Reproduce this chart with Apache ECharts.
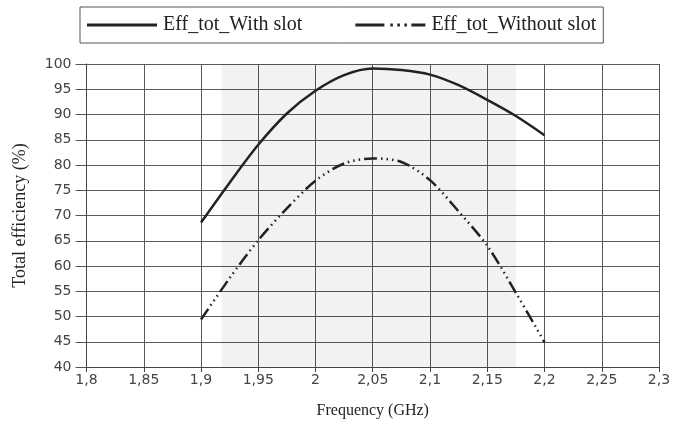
<!DOCTYPE html>
<html>
<head>
<meta charset="utf-8">
<script src="https://cdn.jsdelivr.net/npm/echarts@6/dist/echarts.min.js"></script>
<style>html,body{margin:0;padding:0;background:#fff}#c{width:687px;height:425px}</style>
</head>
<body>
<div id="c"></div>
<script>
var freqs = [1.9, 1.925, 1.95, 1.975, 2.0, 2.025, 2.05, 2.075, 2.1, 2.125, 2.15, 2.175, 2.2];
var withSlot = [68.6, 76.5, 84.0, 90.2, 94.7, 97.8, 99.1, 98.8, 97.9, 95.8, 92.9, 89.7, 85.9];
var withoutSlot = [49.4, 57.6, 65.1, 71.4, 76.9, 80.3, 81.3, 80.6, 77.0, 70.8, 64.0, 54.7, 44.9];
var seriesNames = ['Eff_tot_With slot', 'Eff_tot_Without slot'];
var shadeRange = [1.918, 2.175];
var xTitle = 'Frequency (GHz)';
var yTitle = 'Total efficiency (%)';

function pairs(xs, ys) { return xs.map(function (x, i) { return [x, ys[i]]; }); }

var chart = echarts.init(document.getElementById('c'), null, {renderer: 'canvas'});
var axisFont = {fontFamily: 'DejaVu Sans', fontSize: 14, color: '#444'};
var dashPattern = [13, 4, 1.5, 4, 1.5, 4, 1.5, 4];
var solidIcon = 'path://M0,0h70v3h-70z';
var dashIcon = 'path://M0,0h29v3h-29zM35,0h2.5v3h-2.5zM42,0h2.5v3h-2.5zM49,0h2.5v3h-2.5zM56,0h14v3h-14z';
chart.setOption({
  animation: false,
  backgroundColor: '#fff',
  grid: {left: 86.5, right: 28, top: 64, bottom: 58},
  legend: {
    left: 80, top: 7,
    padding: [8, 7, 8, 7],
    borderColor: '#555', borderWidth: 1,
    itemWidth: 72, itemHeight: 3, itemGap: 53,
    textStyle: {fontFamily: 'Liberation Serif', fontSize: 20, color: '#222'},
    data: [
      {name: seriesNames[0], icon: solidIcon},
      {name: seriesNames[1], icon: dashIcon}
    ]
  },
  xAxis: {
    type: 'value', min: 1.8, max: 2.3, interval: 0.05,
    name: xTitle, nameLocation: 'middle', nameGap: 36,
    nameTextStyle: {fontFamily: 'Liberation Serif', fontSize: 16, color: '#222'},
    axisLine: {lineStyle: {color: '#444', width: 1}},
    axisTick: {show: true, length: 5, lineStyle: {color: '#444'}},
    axisLabel: Object.assign({margin: 6, formatter: function (v) { return String(parseFloat(v.toFixed(2))).replace('.', ','); }}, axisFont),
    splitLine: {show: true, lineStyle: {color: '#5a5a5a', width: 1}}
  },
  yAxis: {
    type: 'value', min: 40, max: 100, interval: 5,
    name: yTitle, nameLocation: 'middle', nameGap: 57,
    nameTextStyle: {fontFamily: 'Liberation Serif', fontSize: 18, color: '#222'},
    axisLine: {show: true, lineStyle: {color: '#444', width: 1}},
    axisTick: {show: true, length: 11, lineStyle: {color: '#555'}},
    axisLabel: Object.assign({margin: 15}, axisFont),
    splitLine: {show: true, lineStyle: {color: '#5a5a5a', width: 1}}
  },
  series: [
    {
      name: seriesNames[0], type: 'line', smooth: 0.3, symbol: 'none',
      data: pairs(freqs, withSlot),
      lineStyle: {color: '#222', width: 2.5, type: 'solid'},
      itemStyle: {color: '#222'},
      markArea: {
        silent: true,
        itemStyle: {color: 'rgba(0,0,0,0.05)'},
        data: [[{xAxis: shadeRange[0]}, {xAxis: shadeRange[1]}]]
      }
    },
    {
      name: seriesNames[1], type: 'line', smooth: 0.3, symbol: 'none',
      data: pairs(freqs, withoutSlot),
      lineStyle: {color: '#222', width: 2.5, type: dashPattern},
      itemStyle: {color: '#222'}
    }
  ]
});
</script>
</body>
</html>
